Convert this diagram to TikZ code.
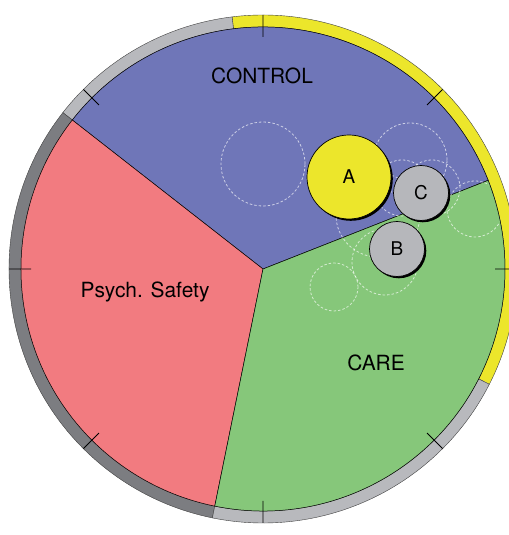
\documentclass[tikz,border=0pt]{standalone}
\usepackage{fontspec}
\setmainfont{TeX Gyre Heros}
\usetikzlibrary{shadows}
\definecolor{ctlblue}{HTML}{6F76B8}
\definecolor{psyred}{HTML}{F27B80}
\definecolor{caregreen}{HTML}{86C77A}
\definecolor{markyellow}{HTML}{ECE62B}
\definecolor{ringlight}{HTML}{B8B9BD}
\definecolor{ringdark}{HTML}{7C7D81}
\definecolor{bubblegray}{HTML}{B6B7BB}
\begin{document}
\begin{tikzpicture}[x=1bp, y=1bp,
    slice/.style={draw=black, line width=0.5bp},
    band/.style={draw=black!75, line width=0.4bp},
    tickmark/.style={draw=black, line width=0.9bp},
    ghost/.style={draw=white, opacity=0.65, dash pattern=on 2.5bp off 2bp, line width=0.8bp},
    bubble/.style={circle, draw=black, line width=0.7bp, inner sep=0pt,
        font=\fontsize{19}{19}\selectfont,
        drop shadow={shadow xshift=1.8bp, shadow yshift=-1.8bp, fill=black, opacity=1}},
    sectorlabel/.style={font=\fontsize{21}{21}\selectfont}]
\useasboundingbox (0,0) rectangle (509,535);
\coordinate (O) at (263,266);
\begin{scope}[shift={(O)}]
\filldraw[band, fill=markyellow] (-27:254) arc[start angle=-27, end angle=97, radius=254]
    -- (97:242) arc[start angle=97, end angle=-27, radius=242] -- cycle;
\filldraw[band, fill=ringlight] (97:254) arc[start angle=97, end angle=142, radius=254]
    -- (142:242) arc[start angle=142, end angle=97, radius=242] -- cycle;
\filldraw[band, fill=ringdark] (142:254) arc[start angle=142, end angle=258.5, radius=254]
    -- (258.5:242) arc[start angle=258.5, end angle=142, radius=242] -- cycle;
\filldraw[band, fill=ringlight] (258.5:254) arc[start angle=258.5, end angle=333, radius=254]
    -- (333:242) arc[start angle=333, end angle=258.5, radius=242] -- cycle;
\filldraw[slice, fill=ctlblue] (0,0) -- (21.5:242) arc[start angle=21.5, end angle=142, radius=242] -- cycle;
\filldraw[slice, fill=psyred] (0,0) -- (142:242) arc[start angle=142, end angle=258.5, radius=242] -- cycle;
\filldraw[slice, fill=caregreen] (0,0) -- (258.5:242) arc[start angle=258.5, end angle=381.5, radius=242] -- cycle;
\draw[tickmark] (0:254) -- (0:232) (45:254) -- (45:232) (90:254) -- (90:232) (135:254) -- (135:232)
    (180:254) -- (180:232) (225:254) -- (225:232) (270:254) -- (270:232) (315:254) -- (315:232);
\end{scope}
\begin{scope}
\clip (O) circle[radius=241];
\draw[ghost] (263,371) circle[radius=42];
\draw[ghost] (410,375) circle[radius=37];
\draw[ghost] (432,347) circle[radius=28];
\draw[ghost] (402,347) circle[radius=28];
\draw[ghost] (475,326) circle[radius=28];
\draw[ghost] (385,273) circle[radius=33];
\draw[ghost] (334,248) circle[radius=24];
\draw[ghost] (378,320) circle[radius=42];
\end{scope}
\node[sectorlabel] (control) at (262,459) {CONTROL};
\node[sectorlabel] (safety) at (145,243) {Psych. Safety};
\node[sectorlabel] (care) at (376,172) {CARE};
\node[bubble, fill=markyellow, minimum size=84bp] (A) at (349,358) {A};
\node[bubble, fill=bubblegray, minimum size=55bp] (B) at (397,286) {B};
\node[bubble, fill=bubblegray, minimum size=55bp] (C) at (421,342) {C};
\end{tikzpicture}
\end{document}
